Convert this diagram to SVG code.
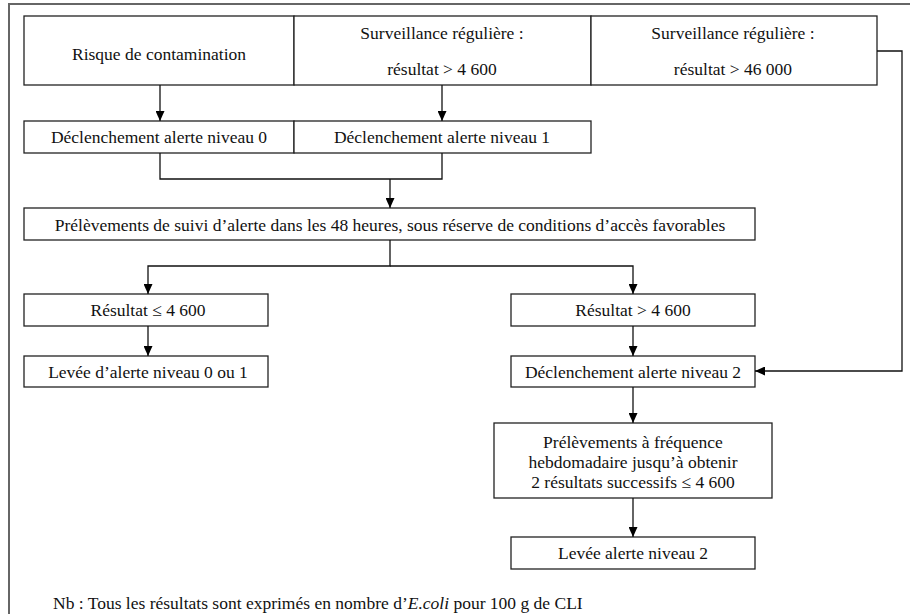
<svg xmlns="http://www.w3.org/2000/svg" width="910" height="614" viewBox="0 0 910 614">
<defs>
<marker id="ah" viewBox="0 0 10 10" refX="10" refY="5" markerWidth="10" markerHeight="9" markerUnits="userSpaceOnUse" orient="auto" preserveAspectRatio="none">
<path d="M0,0 L10,5 L0,10 z" fill="#000"/>
</marker>
<style>
.box{fill:#fff;stroke:#222;stroke-width:1.3}
.t{font-family:"Liberation Serif","Times New Roman",serif;font-size:17.5px;fill:#111;text-anchor:middle;dominant-baseline:central}
.c{fill:none;stroke:#111;stroke-width:1.3}
</style>
</defs>
<rect width="910" height="614" fill="#fff"/>
<path d="M9,614 V4 H910" fill="none" stroke="#666" stroke-width="2"/>

<g id="n-risque"><rect class="box" x="24" y="16" width="270" height="69"/><text class="t" x="159" y="54">Risque de contamination</text></g>
<g id="n-surv1"><rect class="box" x="294" y="16" width="297" height="69"/><text class="t" x="442" y="33">Surveillance régulière :</text><text class="t" x="442" y="69">résultat &gt; 4 600</text></g>
<g id="n-surv2"><rect class="box" x="591" y="16" width="286" height="69"/><text class="t" x="733" y="33">Surveillance régulière :</text><text class="t" x="733" y="69">résultat &gt; 46 000</text></g>

<g id="n-alerte0"><rect class="box" x="24" y="121" width="270" height="32"/><text class="t" x="159" y="137">Déclenchement alerte niveau 0</text></g>
<g id="n-alerte1"><rect class="box" x="294" y="121" width="297" height="32"/><text class="t" x="442" y="137">Déclenchement alerte niveau 1</text></g>

<g id="n-prelev"><rect class="box" x="24" y="208" width="731" height="32"/><text class="t" x="390" y="225">Prélèvements de suivi d’alerte dans les 48 heures, sous réserve de conditions d’accès favorables</text></g>

<g id="n-res-le"><rect class="box" x="24" y="294" width="244" height="32"/><text class="t" x="148" y="310">Résultat ≤ 4 600</text></g>
<g id="n-res-gt"><rect class="box" x="511" y="294" width="244" height="32"/><text class="t" x="633" y="310">Résultat &gt; 4 600</text></g>

<g id="n-levee01"><rect class="box" x="24" y="356" width="244" height="31"/><text class="t" x="148" y="372">Levée d’alerte niveau 0 ou 1</text></g>
<g id="n-alerte2"><rect class="box" x="511" y="356" width="244" height="31"/><text class="t" x="633" y="372">Déclenchement alerte niveau 2</text></g>

<g id="n-hebdo"><rect class="box" x="494" y="423" width="278" height="75"/><text class="t" x="633" y="442">Prélèvements à fréquence</text><text class="t" x="633" y="462">hebdomadaire jusqu’à obtenir</text><text class="t" x="633" y="482">2 résultats successifs ≤ 4 600</text></g>

<g id="n-levee2"><rect class="box" x="511" y="537" width="244" height="32"/><text class="t" x="633" y="553">Levée alerte niveau 2</text></g>

<g id="connectors">
<path class="c" d="M160,85 V121" marker-end="url(#ah)"/>
<path class="c" d="M442,85 V121" marker-end="url(#ah)"/>
<path class="c" d="M160,153 V179 H442 V153"/>
<path class="c" d="M390,179 V208" marker-end="url(#ah)"/>
<path class="c" d="M390,240 V266 H148 V294" marker-end="url(#ah)"/>
<path class="c" d="M390,266 H633 V294" marker-end="url(#ah)"/>
<path class="c" d="M148,326 V356" marker-end="url(#ah)"/>
<path class="c" d="M633,326 V356" marker-end="url(#ah)"/>
<path class="c" d="M877,51 H902 V371 H755" marker-end="url(#ah)"/>
<path class="c" d="M633,387 V423" marker-end="url(#ah)"/>
<path class="c" d="M633,498 V537" marker-end="url(#ah)"/>
</g>

<text x="53" y="609" style="font-family:'Liberation Serif','Times New Roman',serif;font-size:17.5px;fill:#111">Nb : Tous les résultats sont exprimés en nombre d’<tspan font-style="italic">E.coli</tspan> pour 100 g de CLI</text>
</svg>
